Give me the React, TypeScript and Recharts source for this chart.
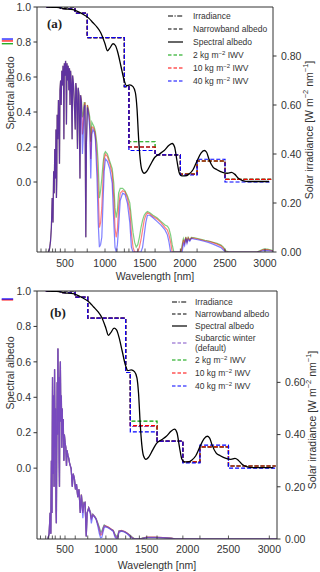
import React from "react";
import { ComposedChart, Line, XAxis, YAxis, ReferenceLine, Legend } from "recharts";

const FONT = "'Liberation Sans', Arial, sans-serif";
const INK = "#333";
const GREEN = "#00a000";
const RED = "#ff0000";
const BLUE = "#0000ff";
const PURPLE = "#8052c8";

// x axis: labelled ticks and inward tick marks (band edges)
const xTickLabels = [500, 1000, 1500, 2000, 2500, 3000];
const xTickMarks = [200, 263, 300, 345, 380, 442, 500, 625, 778, 1000, 1150, 1242, 1299, 1410, 1500, 1626, 1942, 2151, 2500, 3000];
const albTicks = [0, 0.2, 0.4, 0.6, 0.8, 1.0];

// spectral albedo (same in both panels)
const specWl = [270, 400, 500, 600, 700, 800, 850, 900, 950, 1000, 1030, 1060, 1100, 1130, 1160, 1200, 1240, 1270, 1310, 1350, 1380, 1400, 1420, 1440, 1460, 1490, 1520, 1570, 1620, 1680, 1740, 1800, 1840, 1870, 1900, 1930, 1960, 2000, 2050, 2100, 2150, 2200, 2240, 2270, 2300, 2350, 2400, 2470, 2530, 2580, 2620, 2670, 2720, 2800, 3050];
const specAlb = [1.0, 0.998, 0.99, 0.985, 0.965, 0.935, 0.91, 0.885, 0.85, 0.79, 0.75, 0.765, 0.79, 0.78, 0.74, 0.66, 0.58, 0.55, 0.555, 0.545, 0.51, 0.42, 0.25, 0.13, 0.07, 0.05, 0.06, 0.1, 0.14, 0.16, 0.18, 0.21, 0.22, 0.2, 0.12, 0.05, 0.035, 0.035, 0.045, 0.07, 0.12, 0.165, 0.18, 0.17, 0.13, 0.085, 0.07, 0.055, 0.05, 0.055, 0.045, 0.02, 0.008, 0.003, 0.003];

// narrowband albedo steps, value holds from each edge to the next
const bandEdges = [263, 345, 442, 625, 778, 1242, 1299, 1626, 1942, 2151, 2500, 3077];
const nbBlackA = [1, 1, 1, 0.965, 0.825, 0.545, 0.2, 0.155, 0.045, 0.12, 0.015, 0.015];
const nbGreenA = [1, 1, 0.99, 0.965, 0.825, 0.545, 0.23, 0.155, 0.045, 0.12, 0.015, 0.015];
const nbRedA = [1, 1, 0.99, 0.965, 0.825, 0.545, 0.2, 0.155, 0.045, 0.12, 0.015, 0.015];
const nbBlueA = [1, 1, 0.99, 0.965, 0.825, 0.545, 0.18, 0.155, 0.04, 0.13, 0.0, 0.0];
const nbBlackB = [1, 1, 1, 0.965, 0.847, 0.54, 0.24, 0.153, 0.035, 0.12, 0.012, 0.012];
const nbPurpleB = [1, 1, 0.99, 0.965, 0.847, 0.54, 0.235, 0.153, 0.035, 0.12, 0.012, 0.012];
const nbGreenB = [1, 1, 0.99, 0.965, 0.847, 0.54, 0.265, 0.153, 0.035, 0.12, 0.012, 0.012];
const nbRedB = [1, 1, 0.99, 0.965, 0.847, 0.54, 0.24, 0.153, 0.035, 0.12, 0.012, 0.012];
const nbBlueB = [1, 1, 0.99, 0.965, 0.847, 0.54, 0.205, 0.153, 0.03, 0.13, 0.0, 0.0];

// short albedo stubs drawn left of the axes
const stubWlA = [-290, -150];
const stubWlB = [-275, -135];
const stubA = [0.79, 0.806, 0.817];
const stubB = [0.95, 0.955];

// panel (a) irradiance
const wlA = [
  290, 305, 318, 330, 340, 350, 358, 365, 372, 380,
  387, 393, 397, 402, 410, 418, 425, 431, 437, 445,
  452, 460, 468, 475, 482, 486, 492, 500, 507, 513,
  518, 525, 533, 540, 548, 556, 563, 570, 580, 589,
  595, 605, 615, 628, 635, 645, 656, 665, 675, 687,
  695, 705, 718, 728, 740, 750, 760, 768, 780, 795,
  810, 822, 835, 850, 865, 880, 900, 915, 930, 945,
  960, 975, 990, 1005, 1030, 1060, 1090, 1110, 1125, 1140,
  1155, 1170, 1190, 1220, 1250, 1280, 1310, 1330, 1350, 1370,
  1390, 1410, 1430, 1450, 1470, 1490, 1510, 1530, 1560, 1600,
  1650, 1700, 1750, 1780, 1800, 1820, 1840, 1860, 1950, 1965,
  1980, 1995, 2010, 2025, 2040, 2060, 2080, 2120, 2160, 2200,
  2250, 2300, 2350, 2400, 2450, 2480, 2510, 2550, 2900, 2940,
  2980, 3030, 3080, 3110
];
const visA = [
  0, 0.01, 0.04, 0.1, 0.22, 0.12, 0.33, 0.24, 0.42, 0.3,
  0.5, 0.22, 0.3, 0.56, 0.46, 0.62, 0.52, 0.36, 0.66, 0.7,
  0.6, 0.74, 0.68, 0.76, 0.7, 0.46, 0.77, 0.72, 0.78, 0.74,
  0.52, 0.77, 0.7, 0.76, 0.66, 0.75, 0.6, 0.74, 0.68, 0.46,
  0.72, 0.69, 0.62, 0.5, 0.69, 0.66, 0.42, 0.67, 0.64, 0.3
];
const nirGreenA = [
  0.64, 0.62, 0.55, 0.56, 0.61, 0.61, 0.06, 0.45, 0.6, 0.58,
  0.55, 0.45, 0.53, 0.52, 0.51, 0.49, 0.44, 0.36, 0.22, 0.25,
  0.3, 0.36, 0.4, 0.41, 0.4, 0.37, 0.34, 0.28, 0.18, 0.14,
  0.17, 0.24, 0.26, 0.26, 0.25, 0.23, 0.2, 0.14, 0.08, 0.04,
  0.02, 0.03, 0.06, 0.1, 0.13, 0.15, 0.16, 0.165, 0.16, 0.15,
  0.14, 0.125, 0.11, 0.105, 0.095, 0.07, 0.03, 0, 0, 0.03,
  0.055, 0.04, 0.062, 0.045, 0.06, 0.05, 0.06, 0.058, 0.055, 0.052,
  0.048, 0.045, 0.04, 0.035, 0.028, 0.02, 0.005, 0, 0, 0.006,
  0.012, 0.012, 0.008, 0.004
];
const nirRedA = [
  0.64, 0.62, 0.48, 0.52, 0.6, 0.61, 0.06, 0.45, 0.6, 0.57,
  0.53, 0.38, 0.51, 0.51, 0.5, 0.48, 0.38, 0.25, 0.1, 0.12,
  0.18, 0.3, 0.38, 0.4, 0.39, 0.36, 0.32, 0.22, 0.1, 0.06,
  0.09, 0.18, 0.24, 0.25, 0.245, 0.22, 0.17, 0.08, 0.02, 0,
  0, 0, 0.02, 0.05, 0.09, 0.13, 0.15, 0.16, 0.155, 0.145,
  0.135, 0.12, 0.1, 0.09, 0.07, 0.04, 0, 0, 0, 0.02,
  0.05, 0.035, 0.06, 0.04, 0.058, 0.048, 0.058, 0.056, 0.053, 0.05,
  0.046, 0.043, 0.038, 0.032, 0.025, 0.015, 0.002, 0, 0, 0.004,
  0.01, 0.01, 0.006, 0.003
];
const nirBlueA = [
  0.64, 0.61, 0.4, 0.47, 0.59, 0.6, 0.06, 0.44, 0.59, 0.56,
  0.5, 0.3, 0.48, 0.5, 0.49, 0.46, 0.3, 0.12, 0.02, 0.03,
  0.06, 0.2, 0.33, 0.38, 0.37, 0.34, 0.28, 0.12, 0.02, 0,
  0.03, 0.1, 0.21, 0.24, 0.235, 0.2, 0.12, 0.02, 0, 0,
  0, 0, 0, 0, 0.02, 0.07, 0.12, 0.15, 0.15, 0.14,
  0.125, 0.11, 0.09, 0.07, 0.04, 0, 0, 0, 0, 0,
  0.035, 0.025, 0.055, 0.035, 0.052, 0.044, 0.055, 0.052, 0.05, 0.047,
  0.043, 0.038, 0.032, 0.025, 0.018, 0.008, 0, 0, 0, 0.002,
  0.006, 0.006, 0.004, 0.002
];

// panel (b) irradiance
const wlB = [
  290, 305, 318, 326, 333, 340, 347, 353, 360, 366,
  372, 378, 384, 390, 394, 398, 404, 409, 413, 418,
  423, 428, 432, 437, 443, 449, 455, 461, 466, 472,
  478, 486, 492, 500, 510, 518, 525, 535, 545, 556,
  565, 575, 589, 600, 615, 628, 640, 656, 670, 687,
  700, 718, 730, 745, 760, 770, 790, 810, 822, 840,
  860, 880, 900, 920, 935, 950, 965, 980, 1000, 1030,
  1060, 1090, 1110, 1130, 1145, 1160, 1190, 1230, 1260, 1290,
  1320, 1350, 1420, 1450, 1500, 1600, 1700, 1800, 1850, 3100
];
const visB = [
  0, 0.02, 0.1, 0.02, 0.3, 0.1, 0.62, 0.25, 0.55, 0.2,
  0.65, 0.35, 0.5, 0.12, 0.06, 0.3, 0.6, 0.4, 0.73, 0.45,
  0.62, 0.3, 0.2, 0.58, 0.68, 0.45, 0.55, 0.35, 0.5, 0.4,
  0.46, 0.3, 0.4, 0.37, 0.35, 0.28, 0.34, 0.32, 0.31, 0.29,
  0.28, 0.27, 0.2, 0.25, 0.23, 0.19, 0.21, 0.16, 0.19, 0.1
];
const nirPurpleB = [
  0.17, 0.11, 0.14, 0.14, 0.01, 0.1, 0.12, 0.105, 0.08, 0.095,
  0.088, 0.078, 0.06, 0.04, 0.02, 0.025, 0.04, 0.052, 0.048, 0.044,
  0.038, 0.032, 0.015, 0.005, 0.01, 0.03, 0.032, 0.028, 0.022, 0.015,
  0.006, 0, 0, 0.003, 0.006, 0.006, 0.005, 0.003, 0, 0
];
const nirGreenB = [
  0.17, 0.12, 0.14, 0.14, 0.01, 0.1, 0.12, 0.105, 0.085, 0.095,
  0.088, 0.078, 0.062, 0.045, 0.028, 0.03, 0.044, 0.054, 0.049, 0.045,
  0.038, 0.033, 0.02, 0.01, 0.015, 0.031, 0.032, 0.028, 0.022, 0.016,
  0.008, 0.001, 0, 0.004, 0.006, 0.006, 0.005, 0.003, 0, 0
];
const nirRedB = [
  0.17, 0.1, 0.135, 0.14, 0.01, 0.1, 0.12, 0.1, 0.075, 0.093,
  0.087, 0.077, 0.058, 0.035, 0.015, 0.018, 0.036, 0.05, 0.05, 0.046,
  0.039, 0.033, 0.014, 0.004, 0.008, 0.03, 0.033, 0.029, 0.023, 0.015,
  0.006, 0, 0, 0.003, 0.007, 0.007, 0.005, 0.003, 0, 0
];
const nirBlueB = [
  0.168, 0.08, 0.13, 0.138, 0.01, 0.098, 0.118, 0.095, 0.06, 0.09,
  0.085, 0.075, 0.05, 0.02, 0.005, 0.006, 0.025, 0.045, 0.046, 0.042,
  0.036, 0.029, 0.008, 0, 0.003, 0.025, 0.03, 0.026, 0.02, 0.01,
  0.003, 0, 0, 0.001, 0.005, 0.005, 0.004, 0.002, 0, 0
];

type Pt = { wl: number; v: number };
const zip = (xs: number[], ys: number[]): Pt[] => xs.map((x, i) => ({ wl: x, v: ys[i] }));

type Series = { data: Pt[]; color: string; dash?: string; width: number; opacity: number; type: "linear" | "stepAfter" | "monotone" };
type Stub = { v: number; color: string };
type LegendEntry = { label: React.ReactNode; color: string; dash?: string; h: number };

const Sup = ({ children }: { children: React.ReactNode }) => (
  <sup style={{ fontSize: 6, lineHeight: 0, verticalAlign: "3px" }}>{children}</sup>
);

const legendA: LegendEntry[] = [
  { label: "Irradiance", color: "#000", dash: "5 1.5 1.2 1.5", h: 13 },
  { label: "Narrowband albedo", color: "#000", dash: "3.5 2", h: 13 },
  { label: "Spectral albedo", color: "#000", h: 13 },
  { label: <>2 kg m<Sup>−2</Sup> IWV</>, color: GREEN, dash: "3.5 2", h: 13 },
  { label: <>10 kg m<Sup>−2</Sup> IWV</>, color: RED, dash: "3.5 2", h: 13 },
  { label: <>40 kg m<Sup>−2</Sup> IWV</>, color: BLUE, dash: "3.5 2", h: 13 }
];

const legendB: LegendEntry[] = [
  { label: "Irradiance", color: "#000", dash: "5 1.5 1.2 1.5", h: 12 },
  { label: "Narrowband albedo", color: "#000", dash: "3.5 2", h: 12 },
  { label: "Spectral albedo", color: "#000", h: 12 },
  { label: <>Subarctic winter<br />(default)</>, color: PURPLE, dash: "3.5 2", h: 21 },
  { label: <>2 kg m<Sup>−2</Sup> IWV</>, color: GREEN, dash: "3.5 2", h: 13 },
  { label: <>10 kg m<Sup>−2</Sup> IWV</>, color: RED, dash: "3.5 2", h: 13.5 },
  { label: <>40 kg m<Sup>−2</Sup> IWV</>, color: BLUE, dash: "3.5 2", h: 13.5 }
];

function LegendBlock({ entries, gap }: { entries: LegendEntry[]; gap: number }) {
  return (
    <div style={{ fontFamily: FONT, fontSize: 8.5, color: INK, lineHeight: "10px" }}>
      {entries.map((e, i) => (
        <div key={i} style={{ display: "flex", alignItems: "center", height: e.h }}>
          <svg width={15} height={4} style={{ flex: "none", display: "block" }}>
            <line x1={0} x2={15} y1={2} y2={2} stroke={e.color} strokeWidth={1.2} strokeDasharray={e.dash} />
          </svg>
          <span style={{ marginLeft: gap, whiteSpace: "nowrap" }}>{e.label}</span>
        </div>
      ))}
    </div>
  );
}

const xTick = (labelDy: number) => (props: any) => {
  const { x, y, payload } = props;
  const v = payload.value;
  return (
    <g>
      {xTickMarks.includes(v) && <line x1={x} x2={x} y1={y} y2={y - 3.5} stroke={INK} strokeWidth={0.8} />}
      {xTickLabels.includes(v) && (
        <text x={x} y={y + labelDy} textAnchor="middle" fontSize={10.5} fill={INK} fontFamily={FONT}>
          {v}
        </text>
      )}
    </g>
  );
};

const LeftTitle = ({ cx, cy }: { cx: number; cy: number }) => (
  <text x={cx} y={cy} transform={`rotate(-90 ${cx} ${cy})`} textAnchor="middle" dominantBaseline="central" fontSize={10.5} fill={INK} fontFamily={FONT}>
    Spectral albedo
  </text>
);

const RightTitle = ({ cx, cy }: { cx: number; cy: number }) => (
  <text x={cx} y={cy} transform={`rotate(-90 ${cx} ${cy})`} textAnchor="middle" dominantBaseline="central" fontSize={10.5} fill={INK} fontFamily={FONT}>
    Solar irradiance [W m<tspan dy={-4} fontSize={7.5}>−2</tspan>
    <tspan dy={4}> nm</tspan>
    <tspan dy={-4} fontSize={7.5}>−1</tspan>
    <tspan dy={4}>]</tspan>
  </text>
);

type PanelProps = {
  top: number;
  height: number;
  marginTop: number;
  xDomain: [number, number];
  irrDomain: [number, number];
  irrTicks: number[];
  rightWidth: number;
  xAxisHeight: number;
  labelDy: number;
  spectra: Series[];
  steps: Series[];
  stubWl: number[];
  stubs: Stub[];
  legend: LegendEntry[];
  legendPos: { top: number; left: number; gap: number };
  tag: string;
  tagPos: { x: number; y: number };
  leftTitle: { cx: number; cy: number };
  rightTitle: { cx: number; cy: number };
};

function Panel(p: PanelProps) {
  const spec = zip(specWl, specAlb);
  return (
    <div style={{ position: "absolute", left: 0, top: p.top }}>
      <ComposedChart width={320} height={p.height} margin={{ top: p.marginTop, right: 0, bottom: 0, left: 0 }}>
        <XAxis
          xAxisId="x"
          type="number"
          dataKey="wl"
          domain={p.xDomain}
          allowDataOverflow
          ticks={[...new Set([...xTickMarks, ...xTickLabels])].sort((a, b) => a - b)}
          interval={0}
          tickSize={0}
          tickMargin={0}
          tickLine={false}
          tick={xTick(p.labelDy)}
          height={p.xAxisHeight}
          stroke={INK}
          label={{ value: "Wavelength [nm]", position: "insideBottom", offset: 3, fontSize: 10.5, fill: INK, fontFamily: FONT }}
        />
        <YAxis
          yAxisId="alb"
          type="number"
          domain={[-0.4, 1]}
          allowDataOverflow
          ticks={albTicks}
          interval={0}
          width={37}
          tickSize={3.5}
          tickMargin={2.5}
          stroke={INK}
          tick={{ fontSize: 10.5, fill: INK, fontFamily: FONT }}
          tickFormatter={(v: number) => v.toFixed(1)}
          label={{ content: () => <LeftTitle {...p.leftTitle} /> }}
        />
        <YAxis
          yAxisId="irr"
          orientation="right"
          type="number"
          domain={p.irrDomain}
          allowDataOverflow
          ticks={p.irrTicks}
          interval={0}
          width={p.rightWidth}
          tickSize={3.5}
          tickMargin={4.5}
          stroke={INK}
          tick={{ fontSize: 10.5, fill: INK, fontFamily: FONT }}
          tickFormatter={(v: number) => v.toFixed(2)}
          label={{ content: () => <RightTitle {...p.rightTitle} /> }}
        />
        <ReferenceLine
          xAxisId="x"
          yAxisId="alb"
          y={1}
          stroke={INK}
          strokeWidth={1}
          label={{
            content: () => (
              <text x={p.tagPos.x} y={p.tagPos.y} fontSize={13} fontWeight="bold" fill="#222" fontFamily="'Liberation Serif', 'Times New Roman', serif">
                {p.tag}
              </text>
            )
          }}
        />
        {p.spectra.map((s, i) => (
          <Line
            key={"s" + i}
            xAxisId="x"
            yAxisId="irr"
            data={s.data}
            dataKey="v"
            type={s.type}
            stroke={s.color}
            strokeWidth={s.width}
            strokeOpacity={s.opacity}
            dot={false}
            activeDot={false}
            legendType="none"
            isAnimationActive={false}
          />
        ))}
        {p.steps.map((s, i) => (
          <Line
            key={"n" + i}
            xAxisId="x"
            yAxisId="alb"
            data={s.data}
            dataKey="v"
            type={s.type}
            stroke={s.color}
            strokeWidth={s.width}
            strokeOpacity={s.opacity}
            strokeDasharray={s.dash}
            dot={false}
            activeDot={false}
            legendType="none"
            isAnimationActive={false}
          />
        ))}
        <Line
          xAxisId="x"
          yAxisId="alb"
          data={spec}
          dataKey="v"
          type="monotone"
          stroke="#000"
          strokeWidth={1.3}
          dot={false}
          activeDot={false}
          legendType="none"
          isAnimationActive={false}
        />
        {p.stubs.map((s, i) => (
          <ReferenceLine
            key={"stub" + i}
            xAxisId="x"
            yAxisId="alb"
            ifOverflow="visible"
            segment={[
              { x: p.stubWl[0], y: s.v },
              { x: p.stubWl[1], y: s.v }
            ]}
            stroke={s.color}
            strokeWidth={1.2}
          />
        ))}
        <Legend
          layout="vertical"
          align="center"
          verticalAlign="middle"
          wrapperStyle={{ top: p.legendPos.top, left: p.legendPos.left, width: "auto", height: "auto" }}
          content={() => <LegendBlock entries={p.legend} gap={p.legendPos.gap} />}
        />
      </ComposedChart>
    </div>
  );
}

const spectrumA: Series[] = [
  { data: zip(wlA, [...visA, ...nirGreenA]), color: GREEN, width: 1.2, opacity: 0.5, type: "linear" },
  { data: zip(wlA, [...visA, ...nirRedA]), color: RED, width: 1.2, opacity: 0.5, type: "linear" },
  { data: zip(wlA, [...visA, ...nirBlueA]), color: BLUE, width: 1.2, opacity: 0.5, type: "linear" }
];

const stepsA: Series[] = [
  { data: zip(bandEdges, nbBlackA), color: "#000", dash: "4 2", width: 1.2, opacity: 1, type: "stepAfter" },
  { data: zip(bandEdges, nbGreenA), color: GREEN, dash: "4 2", width: 1.2, opacity: 1, type: "stepAfter" },
  { data: zip(bandEdges, nbRedA), color: RED, dash: "4 2", width: 1.2, opacity: 1, type: "stepAfter" },
  { data: zip(bandEdges, nbBlueA), color: BLUE, dash: "4 2", width: 1.2, opacity: 1, type: "stepAfter" }
];

const spectrumB: Series[] = [
  { data: zip(wlB, [...visB, ...nirGreenB]), color: GREEN, width: 1.2, opacity: 0.5, type: "linear" },
  { data: zip(wlB, [...visB, ...nirRedB]), color: RED, width: 1.2, opacity: 0.5, type: "linear" },
  { data: zip(wlB, [...visB, ...nirBlueB]), color: BLUE, width: 1.2, opacity: 0.5, type: "linear" },
  { data: zip(wlB, [...visB, ...nirPurpleB]), color: PURPLE, width: 1.3, opacity: 0.75, type: "linear" }
];

const stepsB: Series[] = [
  { data: zip(bandEdges, nbBlackB), color: "#000", dash: "4 2", width: 1.2, opacity: 1, type: "stepAfter" },
  { data: zip(bandEdges, nbPurpleB), color: PURPLE, dash: "4 2", width: 1.2, opacity: 1, type: "stepAfter" },
  { data: zip(bandEdges, nbGreenB), color: GREEN, dash: "4 2", width: 1.2, opacity: 1, type: "stepAfter" },
  { data: zip(bandEdges, nbRedB), color: RED, dash: "4 2", width: 1.2, opacity: 1, type: "stepAfter" },
  { data: zip(bandEdges, nbBlueB), color: BLUE, dash: "4 2", width: 1.2, opacity: 1, type: "stepAfter" }
];

export default function App() {
  return (
    <div style={{ position: "absolute", left: 0, top: 0, width: 320, height: 572, background: "#fff", fontFamily: FONT }}>
      <Panel
        top={0}
        height={283}
        marginTop={7}
        xDomain={[150, 3100]}
        irrDomain={[0, 1]}
        irrTicks={[0, 0.2, 0.4, 0.6, 0.8]}
        rightWidth={47}
        xAxisHeight={31}
        labelDy={14.5}
        spectra={spectrumA}
        steps={stepsA}
        stubWl={stubWlA}
        stubs={[
          { v: stubA[0], color: GREEN },
          { v: stubA[1], color: RED },
          { v: stubA[2], color: BLUE }
        ]}
        legend={legendA}
        legendPos={{ top: 9.5, left: 168, gap: 10 }}
        tag="(a)"
        tagPos={{ x: 47, y: 28 }}
        leftTitle={{ cx: 10, cy: 93 }}
        rightTitle={{ cx: 309, cy: 130 }}
      />
      <Panel
        top={283}
        height={289}
        marginTop={8}
        xDomain={[157, 3094]}
        irrDomain={[0, 0.95]}
        irrTicks={[0, 0.2, 0.4, 0.6]}
        rightWidth={43}
        xAxisHeight={33}
        labelDy={14}
        spectra={spectrumB}
        steps={stepsB}
        stubWl={stubWlB}
        stubs={[
          { v: stubB[0], color: RED },
          { v: stubB[1], color: BLUE }
        ]}
        legend={legendB}
        legendPos={{ top: 13, left: 172, gap: 8 }}
        tag="(b)"
        tagPos={{ x: 50, y: 34 }}
        leftTitle={{ cx: 10, cy: 90 }}
        rightTitle={{ cx: 312, cy: 137 }}
      />
    </div>
  );
}
